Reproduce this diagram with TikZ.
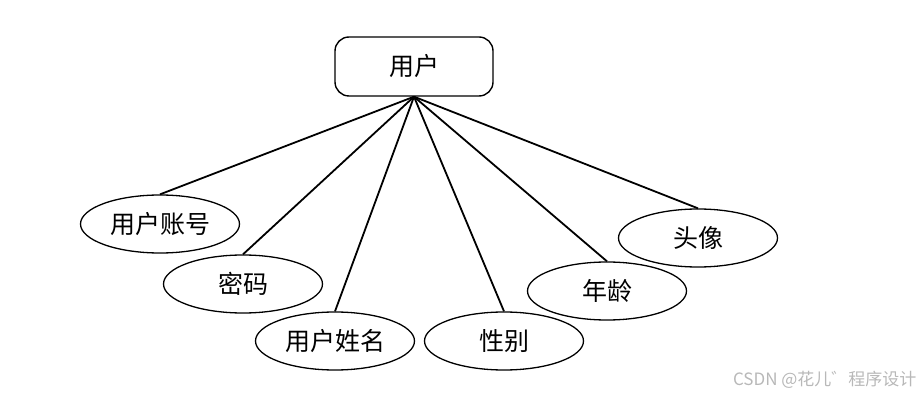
\documentclass[tikz,border=0pt]{standalone}
\usepackage{fontspec}
\setmainfont{Noto Sans CJK SC}
\usepackage{tikz}
\usetikzlibrary{shapes.geometric}

\begin{document}
\begin{tikzpicture}[x=1pt,y=-1pt,
    entity/.style={draw,line width=1.4pt,rounded corners=14pt,minimum width=158pt,minimum height=59pt,font=\fontsize{25}{28}\selectfont},
    attr/.style={draw,line width=1.3pt,ellipse,minimum width=159pt,minimum height=58pt,inner sep=0pt,font=\fontsize{25}{28}\selectfont}]
    \useasboundingbox (0,0) rectangle (923,395);
    \node[entity] (user) at (414,66.5) {用户};
    \node[attr] (acct) at (160,224) {用户账号};
    \node[attr] (pwd) at (243,284) {密码};
    \node[attr] (name) at (335,341) {用户姓名};
    \node[attr] (sex) at (504,341) {性别};
    \node[attr] (age) at (607,291) {年龄};
    \node[attr] (avatar) at (698,238) {头像};
    \node[text=black!28,font=\fontsize{17}{19}\selectfont,anchor=east] (mark) at (920,380) {CSDN @花儿゛程序设计};

    \path[every edge/.style={draw,line width=1.8pt}]
    (user.south) edge (acct.north)
    (user.south) edge (pwd.north)
    (user.south) edge (name.north)
    (user.south) edge (sex.north)
    (user.south) edge (age.north)
    (user.south) edge (avatar.north);
\end{tikzpicture}
\end{document}
